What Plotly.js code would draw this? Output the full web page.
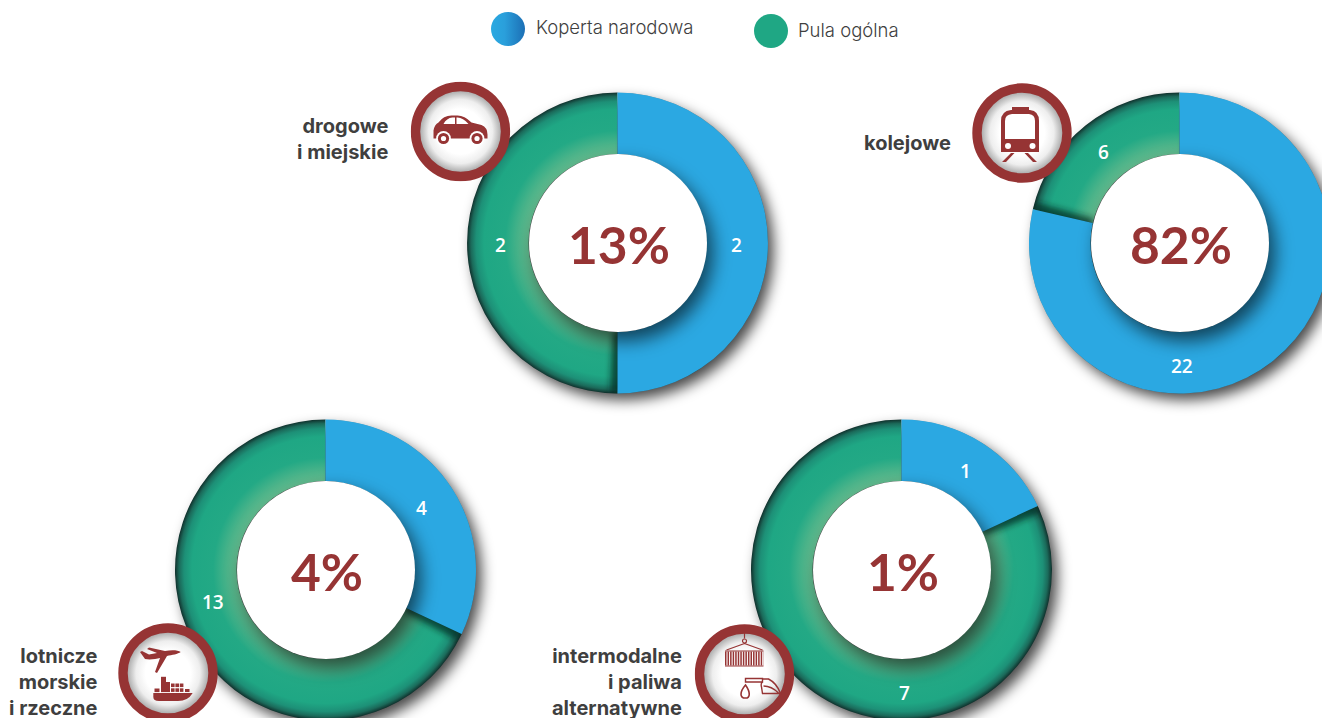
<!DOCTYPE html>
<html><head><meta charset="utf-8">
<script src="https://cdn.plot.ly/plotly-3.0.1.min.js"></script>
<style>html,body{margin:0;padding:0;background:#fff;overflow:hidden;width:1322px;height:718px}#c{width:1400px;height:800px}</style>
</head><body><div id="c"></div>
<script>
// ---------- data ----------
const seriesNames = ['Koperta narodowa', 'Pula ogólna'];
const modeTitles = ['drogowe<br>i miejskie', 'kolejowe', 'lotnicze<br>morskie<br>i rzeczne', 'intermodalne<br>i paliwa<br>alternatywne'];
const centerPercents = ['13%', '82%', '4%', '1%'];
// slice sizes as drawn (the drawn angles differ from the printed numbers in the lower charts)
const roadShares = [50, 50];
const railShares = [78.6, 21.4];
const airShares = [32, 68];
const intermodalShares = [18, 82];
// printed numbers
const roadPrinted = ['2', '2'];
const railPrinted = ['22', '6'];
const airPrinted = ['4', '13'];
const intermodalPrinted = ['1', '7'];

// ---------- styles and placement ----------
const W = 1400, H = 800, R = 150.5, HOLE = 89;
const BLUE = '#2ba8e2', GREEN = '#1fa784', RED = '#963434', INK = '#3f3f3f';
const FONT = 'Lato, sans-serif', TEXTFONT = 'Inter, sans-serif';
const px = x => x / W, py = y => 1 - y / H;
const svgUri = s => 'data:image/svg+xml,' + encodeURIComponent(s);
const panels = [
  {c:[617.5,243], shares:roadShares, nums:roadPrinted, numAt:[[736,245],[500,245]], badge:[460.5,131.5], titleAt:[390,139.5], icon:'car'},
  {c:[1179.5,243], shares:railShares, nums:railPrinted, numAt:[[1182,366],[1103,152]], badge:[1022,133], titleAt:[952.5,143], icon:'train'},
  {c:[325.5,570], shares:airShares, nums:airPrinted, numAt:[[421,508],[213,602]], badge:[168,673], titleAt:[99.5,681.5], icon:'air'},
  {c:[901.5,570], shares:intermodalShares, nums:intermodalPrinted, numAt:[[965,471],[904,693]], badge:[744.5,674], titleAt:[683.5,681.5], icon:'box'}
];

// ---------- icons ----------
const icons = {
  car: `<path d="M-27,7 L-27,-1 Q-26,-7 -22,-9 Q-17,-16 -9,-16 L-3,-16 Q4,-16 11,-9 L21,-6.5 Q27,-4 27,3 L27,7 Z"/>
        <path fill="#fff" d="M-17,-7.5 Q-14,-13.5 -8,-14 L-5.5,-14 L-5.5,-7.5 Z M-4,-14 L-3,-14 Q2.5,-14 8,-7.5 L-4,-7.5 Z"/>
        <circle cx="-17" cy="7" r="7.4" fill="#fff"/><circle cx="-17" cy="7" r="5.6"/><circle cx="-17" cy="7" r="2.6" fill="#fff"/>
        <circle cx="16.5" cy="7" r="7.4" fill="#fff"/><circle cx="16.5" cy="7" r="5.6"/><circle cx="16.5" cy="7" r="2.6" fill="#fff"/>`,
  train: `<rect x="-10" y="-26" width="17" height="4"/>
        <path d="M-21,-12 Q-21,-22 -11,-23 L8,-23 Q17,-22 17,-12 L17,19 L-21,19 Z"/>
        <path fill="#fff" d="M-17,6 L-17,-12 Q-17,-18.5 -10,-19 L7,-19 Q13,-18.5 13,-12 L13,6 Z"/>
        <circle cx="-14" cy="13" r="3" fill="#fff"/><circle cx="10.5" cy="13" r="3" fill="#fff"/>
        <path d="M-11,20 L-7.5,20 L-16,29 L-20,29 Z M6,20 L2.5,20 L11,29 L15,29 Z"/>`,
  air: `<path d="M12.7,-21 C10,-23 3,-23 -3,-22 L-19,-25.5 L-21,-24 L-11,-20 L-19,-18.5 L-26,-22 L-28,-21 L-23,-14 C-18,-13 -12,-14 -8,-15 L-13,-1 L-11,0 L-1,-17 C4,-18 10,-19 12.7,-21 Z"/>
        <path d="M-14.7,20 L24.7,20 Q20,28 10,28 L-9,28 Q-14.7,28 -14.7,24 Z"/>
        <rect x="-13.5" y="15.5" width="5" height="3.6"/><rect x="-7" y="3.8" width="5" height="15.3"/><rect x="-2" y="9" width="4" height="10.1"/>
        <g><rect x="3" y="10.5" width="3.6" height="3.6"/><rect x="7.4" y="10.5" width="3.6" height="3.6"/><rect x="11.8" y="10.5" width="3.6" height="3.6"/>
        <rect x="3" y="15.3" width="3.6" height="3.6"/><rect x="7.4" y="15.3" width="3.6" height="3.6"/><rect x="11.8" y="15.3" width="3.6" height="3.6"/><rect x="17" y="16" width="4.5" height="3"/></g>`,
  box: `<g fill="none" stroke="${RED}" stroke-width="1.2"><path d="M0,-42 V-35.5"/><circle cx="0" cy="-33" r="2"/><path d="M0,-30.5 L-18,-24 M0,-30.5 L18,-24"/>
        <path stroke-width="14" stroke-dasharray="1.5 1.05" d="M-19.5,-15.5 H19"/><path stroke-width="1.2" d="M-19.5,-23 H19 M-19.5,-8 H19"/>
        <path stroke-width="1.6" d="M1,24 C-5,24 -5,18 1,11 C6,18 6,24 1,24 Z"/>
        <path stroke-width="1.4" d="M1,4.5 H18 V8 H1 Z M18,5 L24,5 C30,8 34,14 36,19.5 H18 L17,13 Q16,9 18,8 M19,12 C24,12 30,15 34,19"/></g>`
};
const badgeSvg = k => `<svg xmlns="http://www.w3.org/2000/svg" width="100" height="100" viewBox="-50 -50 100 100">
  <defs><radialGradient id="b" gradientUnits="userSpaceOnUse" cx="0" cy="0" r="41">
  <stop offset="0.55" stop-color="#ffffff"/><stop offset="0.78" stop-color="#eeeeee"/><stop offset="1" stop-color="#a9a9a9"/></radialGradient></defs>
  <circle r="45" fill="url(#b)" stroke="${RED}" stroke-width="9.4"/><g fill="${RED}">${icons[k]}</g></svg>`;
const discSvg = `<svg xmlns="http://www.w3.org/2000/svg" width="260" height="260" viewBox="-130 -130 260 260">
  <defs><filter id="s" x="-30%" y="-30%" width="160%" height="160%"><feGaussianBlur stdDeviation="9"/></filter></defs>
  <circle cx="6" cy="9" r="${HOLE}" fill="#000" fill-opacity="0.6" filter="url(#s)"/><circle r="${HOLE}" fill="#fff"/></svg>`;
const castSvg = `<svg xmlns="http://www.w3.org/2000/svg" width="360" height="360" viewBox="-180 -180 360 360">
  <defs><filter id="s" x="-20%" y="-20%" width="140%" height="140%"><feGaussianBlur stdDeviation="7"/></filter></defs>
  <circle cx="6" cy="7" r="150" fill="#000" fill-opacity="0.72" filter="url(#s)"/></svg>`;
const dotSvg = `<svg xmlns="http://www.w3.org/2000/svg" width="34" height="34"><defs><linearGradient id="g"><stop offset="0" stop-color="#2aa9e1"/><stop offset="0.4" stop-color="#2a9fdb"/><stop offset="1" stop-color="#1c6fb5"/></linearGradient></defs><circle cx="17" cy="17" r="17" fill="url(#g)"/></svg>`;
const img = (src, cx, cy, size, layer) => ({source: svgUri(src), xref:'paper', yref:'paper', x:px(cx-size/2), y:py(cy-size/2),
  sizex:size/W, sizey:size/H, xanchor:'left', yanchor:'top', sizing:'stretch', layer});
const note = (text, x, y, size, color, anchor, weight, family) => ({text, x:px(x), y:py(y), xref:'paper', yref:'paper', showarrow:false,
  xanchor:anchor||'center', yanchor:'middle', align:anchor||'center', font:{size, color, family:family||FONT, weight:weight||400}});

// ---------- traces ----------
const traces = panels.map(p => ({
  type:'pie', values:p.shares, labels:seriesNames, sort:false, direction:'clockwise', rotation:0,
  hole:HOLE/R, textinfo:'none', hoverinfo:'skip', showlegend:false,
  marker:{colors:[BLUE, GREEN], line:{width:0}},
  domain:{x:[px(p.c[0]-R), px(p.c[0]+R)], y:[py(p.c[1]+R), py(p.c[1]-R)]}
}));

const images = [], annotations = [];
panels.forEach((p, i) => {
  images.push(img(castSvg, p.c[0], p.c[1], 360, 'below'));
  images.push(img(discSvg, p.c[0]+0.5, p.c[1], 260, 'above'));
  images.push(img(badgeSvg(p.icon), p.badge[0], p.badge[1], 100, 'above'));
  annotations.push(note(centerPercents[i], p.c[0]+1, p.c[1]+0.5, 51.5, RED, 'center', 700));
  annotations.push(note(modeTitles[i], p.titleAt[0], p.titleAt[1], 20, INK, 'right', 700, TEXTFONT));
  p.nums.forEach((n, j) => annotations.push(note(n, p.numAt[j][0], p.numAt[j][1], 19, '#ffffff', 'center', 600, '"Open Sans", sans-serif')));
});
images.push(img(dotSvg, 508, 29, 34, 'above'));
annotations.push(note(seriesNames[0], 534, 27, 18.5, INK, 'left', 300, TEXTFONT));
annotations.push(note(seriesNames[1], 796, 30, 18.5, INK, 'left', 300, TEXTFONT));

const layout = {
  width:W, height:H, margin:{l:0,r:0,t:0,b:0}, paper_bgcolor:'#fff', showlegend:false,
  images, annotations,
  shapes:[{type:'circle', xref:'paper', yref:'paper', x0:px(754), x1:px(788), y0:py(48), y1:py(14), fillcolor:GREEN, line:{width:0}}]
};

// ---------- radial glow on the green slice and the shadow the blue slice casts on it ----------
function shade(gd){
  const NS = 'http://www.w3.org/2000/svg';
  const svg = gd.querySelector('svg.main-svg');
  const defs = document.createElementNS(NS, 'defs');
  let html = '<filter id="edgeBlur" x="-20%" y="-20%" width="140%" height="140%"><feGaussianBlur stdDeviation="3.4"/></filter>';
  gd.calcdata.forEach((cd, i) => {
    const c = cd[0];
    const st = (rr, col) => `<stop offset="${rr / 150}" stop-color="${col}"/>`;
    html += `<radialGradient id="ring${i}" gradientUnits="userSpaceOnUse" cx="${c.cx}" cy="${c.cy}" r="${c.r}">`
      + st(HOLE, '#62bc8f') + st(98, '#4cb48a') + st(112, '#23a985') + st(133, GREEN)
      + st(141, '#1d9077') + st(146, '#1b6a5a') + st(150, '#10302c') + '</radialGradient>'
      + `<clipPath id="clip${i}"><circle cx="${c.cx}" cy="${c.cy}" r="${c.r}"/></clipPath>`;
  });
  defs.innerHTML = html;
  svg.insertBefore(defs, svg.firstChild);
  gd.querySelectorAll('g.pielayer g.trace').forEach((t, i) => {
    const c = gd.calcdata[i][0];
    const slices = t.querySelectorAll('g.slice');
    const blue = slices[0], green = slices[1];
    green.querySelector('path.surface').style.fill = `url(#ring${i})`;
    const wrap = document.createElementNS(NS, 'g');
    wrap.setAttribute('clip-path', `url(#clip${i})`);
    const cast = blue.querySelector('path.surface').cloneNode(true);
    cast.style.fill = '#06201e';
    cast.style.fillOpacity = '0.72';
    cast.setAttribute('transform', `rotate(2.8 ${c.cx} ${c.cy})`);
    cast.setAttribute('filter', 'url(#edgeBlur)');
    wrap.appendChild(cast);
    t.appendChild(wrap);
    t.appendChild(blue);
  });
}
Plotly.newPlot('c', traces, layout, {displayModeBar:false, staticPlot:true}).then(shade);
</script></body></html>
